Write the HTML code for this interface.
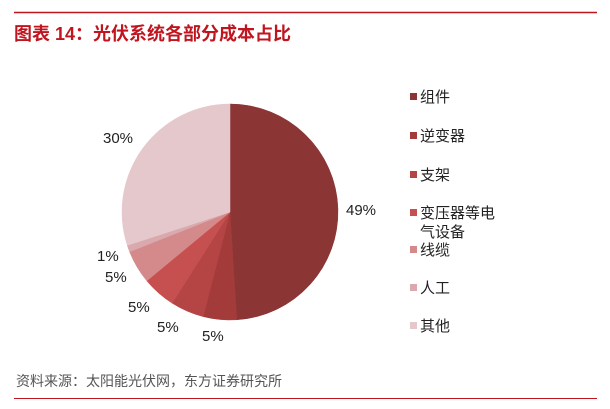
<!DOCTYPE html>
<html><head><meta charset="utf-8"><style>
body{margin:0;width:610px;height:409px;background:#fff;overflow:hidden;font-family:"Liberation Sans","Noto Sans CJK SC",sans-serif;}
</style></head><body>
<svg id="s" width="610" height="409" xmlns="http://www.w3.org/2000/svg" style="position:absolute;left:0;top:0">
<line x1="14" y1="12.5" x2="597" y2="12.5" stroke="#C0151F" stroke-width="1.5"/>
<text x="14" y="40" font-size="18" font-weight="bold" fill="#C0151F" font-family="Liberation Sans,Noto Sans CJK SC,sans-serif">图表 14：光伏系统各部分成本占比</text>
<g id="pie"></g>
<g font-size="15" fill="#222" font-family="Liberation Sans,sans-serif">
<text x="346" y="215">49%</text>
<text x="103" y="143">30%</text>
<text x="97" y="261">1%</text>
<text x="105" y="282">5%</text>
<text x="128" y="312">5%</text>
<text x="157" y="332">5%</text>
<text x="202" y="341">5%</text>
</g>
<g font-size="15" fill="#222" font-family="Noto Sans CJK SC,sans-serif">
<rect x="410" y="93" width="7" height="7" fill="#8B3535"/><text x="420" y="102">组件</text>
<rect x="410" y="132" width="7" height="7" fill="#A33B3B"/><text x="420" y="141">逆变器</text>
<rect x="410" y="171" width="7" height="7" fill="#B54545"/><text x="420" y="180">支架</text>
<rect x="410" y="209" width="7" height="7" fill="#C65050"/><text x="420" y="218">变压器等电</text><text x="420" y="237">气设备</text>
<rect x="410" y="246" width="7" height="7" fill="#D48A8A"/><text x="420" y="255">线缆</text>
<rect x="410" y="284" width="7" height="7" fill="#D9A9AE"/><text x="420" y="293">人工</text>
<rect x="410" y="322" width="7" height="7" fill="#E5C8CC"/><text x="420" y="331">其他</text>
</g>
<text x="16" y="386" font-size="14" fill="#555" font-family="Liberation Sans,Noto Sans CJK SC,sans-serif">资料来源：太阳能光伏网，东方证券研究所</text>
<line x1="14" y1="398.5" x2="597" y2="398.5" stroke="#C0151F" stroke-width="1"/>
</svg>
<script>
var cx=230,cy=212,r=108,v=[49,5,5,5,5,1,30],c=["#8B3535","#A33B3B","#B54545","#C65050","#D48A8A","#D9A9AE","#E5C8CC"],a=0,h="";
for(var i=0;i<v.length;i++){var a1=a+v[i]/100*2*Math.PI;
var x0=cx+r*Math.sin(a),y0=cy-r*Math.cos(a),x1=cx+r*Math.sin(a1),y1=cy-r*Math.cos(a1);
h+='<path d="M'+cx+','+cy+'L'+x0+','+y0+'A'+r+','+r+' 0 '+(a1-a>Math.PI?1:0)+' 1 '+x1+','+y1+'Z" fill="'+c[i]+'" stroke="'+c[i]+'" stroke-width="0.5"/>';a=a1;}
document.getElementById("pie").innerHTML=h;
</script>
</body></html>
